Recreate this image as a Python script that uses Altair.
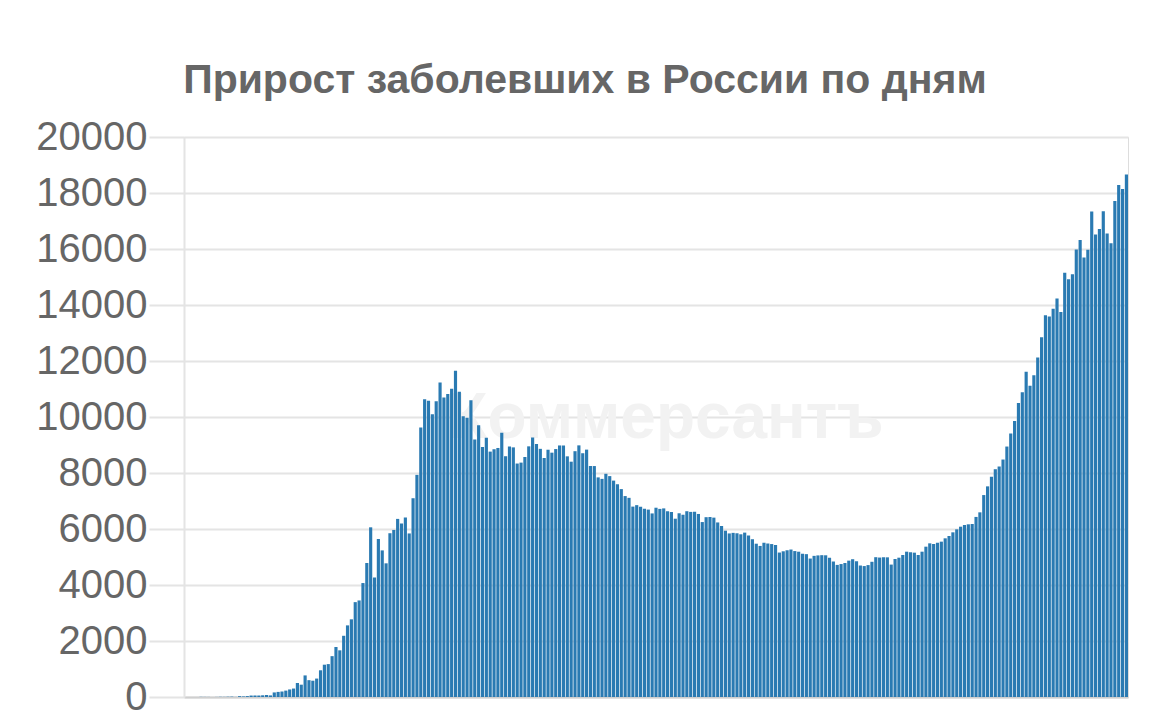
import altair as alt
import pandas as pd

# Daily new cases in Russia, 2 Mar 2020 - 1 Nov 2020
mar = [1, 0, 0, 1, 6, 4, 3, 0, 3, 8, 6, 11, 14, 4, 30, 21, 33, 52, 54, 53,
       61, 71, 57, 163, 182, 196, 228, 270, 302, 501]
apr = [440, 771, 601, 582, 658, 954, 1154, 1175, 1459, 1786, 1667, 2186, 2558,
       2774, 3388, 3448, 4070, 4785, 6060, 4268, 5642, 5236, 4774, 5849, 5966,
       6361, 6198, 6411, 5841, 7099]
may = [7933, 9623, 10633, 10581, 10102, 10559, 11231, 10699, 10817, 11012,
       11656, 10899, 10028, 9974, 10598, 9200, 9709, 8926, 9263, 8764, 8849,
       8894, 9434, 8599, 8946, 8915, 8338, 8371, 8572, 8952, 9268]
jun = [9035, 8863, 8536, 8831, 8726, 8855, 8984, 8985, 8595, 8404, 8779, 8987,
       8706, 8835, 8246, 8248, 7843, 7790, 7972, 7889, 7728, 7600, 7425, 7176,
       7113, 6800, 6852, 6791, 6719, 6693]
jul = [6556, 6760, 6718, 6736, 6632, 6611, 6368, 6562, 6509, 6635, 6611, 6615,
       6537, 6248, 6422, 6428, 6406, 6234, 6109, 5940, 5842, 5862, 5848, 5811,
       5871, 5765, 5635, 5475, 5395, 5509, 5482]
aug = [5462, 5427, 5159, 5204, 5241, 5267, 5212, 5189, 5118, 5102, 4945, 5041,
       5057, 5065, 5061, 4969, 4839, 4718, 4748, 4785, 4870, 4921, 4852, 4696,
       4676, 4711, 4829, 4993, 4980, 4993, 4988]
sep = [4729, 4929, 4976, 5071, 5190, 5167, 5155, 5071, 5190, 5369, 5488, 5464,
       5512, 5548, 5667, 5750, 5881, 5988, 6083, 6143, 6167, 6179, 6431, 6595,
       7212, 7523, 7867, 8135, 8232, 8481]
octo = [8945, 9412, 9859, 10499, 10888, 11615, 11115, 11493, 12126, 12846,
        13634, 13592, 13868, 14231, 13754, 15150, 14922, 15099, 15982, 16319,
        15700, 15971, 17340, 16521, 16710, 17347, 16550, 16202, 17717, 18283,
        18140]
nov = [18665]

values = mar + apr + may + jun + jul + aug + sep + octo + nov
dates = pd.date_range("2020-03-02", periods=len(values), freq="D").strftime("%Y-%m-%d").tolist()

y_ticks = list(range(0, 20001, 2000))
title_text = "Прирост заболевших в России по дням"
watermark = "Коммерсантъ"

df = pd.DataFrame({"date": dates, "cases": values})

FONT = "Liberation Sans"
GRID = "#e4e4e4"

wm = alt.Chart(pd.DataFrame({"t": [watermark]})).mark_text(
    font=FONT, fontWeight="bold", fontSize=64, color="#f2f2f2",
    align="center", baseline="middle"
).encode(text="t:N", x=alt.value(482), y=alt.value(282))

ttl = alt.Chart(pd.DataFrame({"t": [title_text]})).mark_text(
    font=FONT, fontWeight="bold", fontSize=41, color="#666666",
    align="center", baseline="alphabetic"
).encode(text="t:N", x=alt.value(401), y=alt.value(-44))

bars = alt.Chart(df).mark_bar(color="#2a7ab2").encode(
    x=alt.X("date:O", sort=None,
            scale=alt.Scale(paddingInner=0.18, paddingOuter=0.0),
            axis=alt.Axis(title=None, labels=False, ticks=False, domain=True,
                          domainColor="#cfcfcf", domainWidth=2, grid=False)),
    y=alt.Y("cases:Q",
            scale=alt.Scale(domain=[0, 20000], nice=False),
            axis=alt.Axis(title=None, values=y_ticks, format="d",
                          labelFontSize=40,
                          labelColor="#666666", labelFont=FONT, labelPadding=2,
                          tickSize=35, tickColor=GRID, tickWidth=2,
                          grid=True, gridColor=GRID, gridWidth=2,
                          domain=True, domainColor=GRID, domainWidth=2,
                          labelBaseline="middle")),
)

chart = alt.layer(wm, bars, ttl).properties(
    width=944, height=560,
    autosize=alt.AutoSizeParams(type="none"),
    padding={"left": 176, "top": 129, "right": 24, "bottom": 19},
).configure_view(stroke=None).configure(background="white")

chart.save("out.html", embed_options={"renderer": "svg", "actions": False})
